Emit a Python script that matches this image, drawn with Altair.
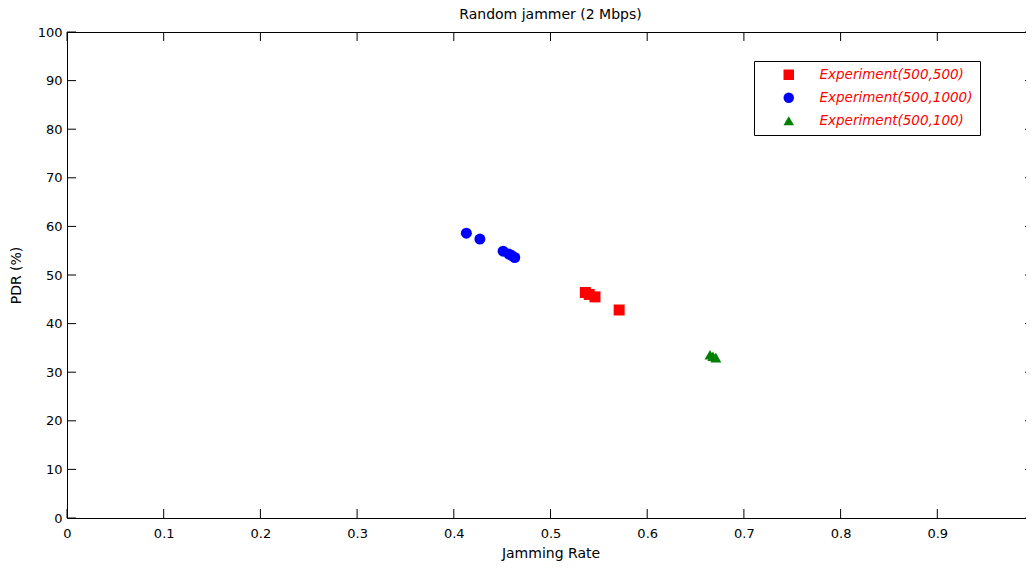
import altair as alt
import pandas as pd

FONT = "DejaVu Sans"

series_names = ["Experiment(500,500)", "Experiment(500,1000)", "Experiment(500,100)"]
series_colors = ["#ff0000", "#0000ff", "#008000"]
series_shapes = ["square", "circle", "triangle-up"]

x_500_500 = [0.536, 0.540, 0.546, 0.571]
y_500_500 = [46.4, 46.0, 45.5, 42.8]

x_500_1000 = [0.413, 0.427, 0.451, 0.457, 0.460, 0.463]
y_500_1000 = [58.6, 57.4, 54.9, 54.3, 54.0, 53.6]

x_500_100 = [0.665, 0.668, 0.671]
y_500_100 = [33.6, 33.3, 33.0]

x_ticks = [0, 0.1, 0.2, 0.3, 0.4, 0.5, 0.6, 0.7, 0.8, 0.9, 1]
y_ticks = [0, 10, 20, 30, 40, 50, 60, 70, 80, 90, 100]

W_VIEW = 959      # visible part of the plot (page is only 1034 px wide)
W_FULL = 967      # full axis length; the right edge runs past the window
H = 486
TICK = 9

rows = []
for name, xs, ys in [
    (series_names[0], x_500_500, y_500_500),
    (series_names[1], x_500_1000, y_500_1000),
    (series_names[2], x_500_100, y_500_100),
]:
    for a, b in zip(xs, ys):
        rows.append({"series": name, "x": a, "y": b})
df = pd.DataFrame(rows)
xt = pd.DataFrame({"v": x_ticks})
yt = pd.DataFrame({"v": y_ticks})

xscale = alt.Scale(domain=[0, 1], nice=False, zero=False, range=[0, W_FULL])
yscale = alt.Scale(domain=[0, 100], nice=False, zero=False)

leg = alt.Legend(
    title=None, orient="none", legendX=687, legendY=29,
    fillColor="white", strokeColor="black", padding=7, rowPadding=8,
    symbolSize=110, symbolOffset=21, labelOffset=24,
    labelFont=FONT, labelFontSize=13.5, labelFontStyle="italic",
    labelColor="#ff0000",
)

yaxis = alt.Axis(
    orient="left", values=y_ticks, format="d", title="PDR (%)",
    ticks=False, grid=False, domain=True, domainColor="black", labelFont=FONT,
    labelFontSize=13, labelColor="black", labelPadding=5, labelFlush=False,
    labelOverlap=False, titleFont=FONT, titleFontSize=14,
    titleFontWeight="normal", titleColor="black", titleX=-47,
    titleBaseline="alphabetic")

points = alt.Chart(df).mark_point(filled=True, opacity=1, size=121).encode(
    x=alt.X("x:Q", scale=xscale, axis=alt.Axis(
        orient="bottom", values=x_ticks, format="~g", title="Jamming Rate",
        ticks=False, grid=False, domainColor="black", labelFont=FONT,
        labelFontSize=13, labelColor="black", labelPadding=9, labelFlush=False,
        labelOverlap=False, titleFont=FONT, titleFontSize=14,
        titleFontWeight="normal", titleColor="black", titleY=39,
        titleBaseline="alphabetic")),
    y=alt.Y("y:Q", scale=yscale, axis=yaxis),
    color=alt.Color("series:N", scale=alt.Scale(domain=series_names, range=series_colors), legend=leg),
    shape=alt.Shape("series:N", scale=alt.Scale(domain=series_names, range=series_shapes), legend=leg),
)

bottom_ticks = alt.Chart(xt).mark_rule(color="black").encode(
    x=alt.X("v:Q", scale=xscale, axis=None),
    y=alt.value(H), y2=alt.value(H - TICK),
)
top_ticks = alt.Chart(xt).mark_rule(color="black").encode(
    x=alt.X("v:Q", scale=xscale, axis=alt.Axis(
        orient="top", labels=False, ticks=False, grid=False, title=None,
        domain=True, domainColor="black")),
    y=alt.value(0), y2=alt.value(TICK),
)
left_ticks = alt.Chart(yt).mark_rule(color="black").encode(
    y=alt.Y("v:Q", scale=yscale, axis=yaxis),
    x=alt.value(0), x2=alt.value(TICK),
)
right_ticks = alt.Chart(yt).mark_rule(color="black").encode(
    y=alt.Y("v:Q", scale=yscale, axis=yaxis),
    x=alt.value(W_FULL), x2=alt.value(W_FULL - TICK),
)

chart = alt.layer(points, bottom_ticks, top_ticks, left_ticks, right_ticks).properties(
    width=W_VIEW, height=H,
    title=alt.TitleParams("Random jammer (2 Mbps)", font=FONT, fontSize=14,
                          fontWeight="normal", color="black", offset=4,
                          anchor="middle", frame="group", dx=4),
    autosize=alt.AutoSizeParams(type="none"),
    padding={"left": 59, "top": 24, "right": 0, "bottom": 43},
).configure_view(stroke=None).configure(background="white")

chart.save("out.html", embed_options={"renderer": "svg", "actions": False})
